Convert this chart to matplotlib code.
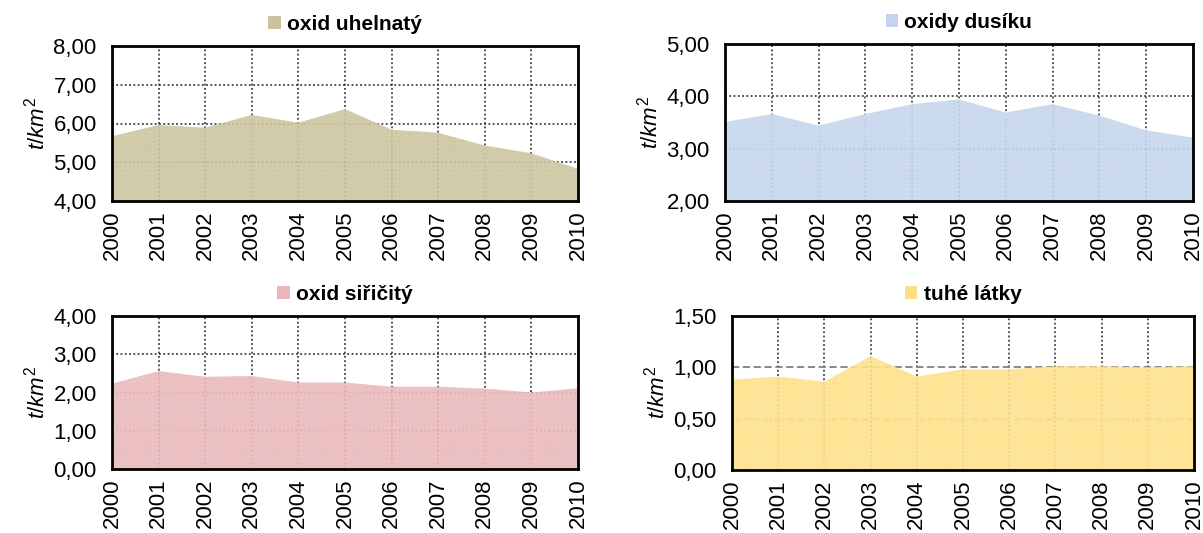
import numpy as np
import matplotlib.pyplot as plt
from matplotlib.patches import Patch
from matplotlib.ticker import FuncFormatter

plt.rcParams['font.family'] = ['Liberation Sans', 'DejaVu Sans']
plt.rcParams['mathtext.fontset'] = 'custom'
plt.rcParams['mathtext.it'] = 'Liberation Sans:italic'
plt.rcParams['mathtext.rm'] = 'Liberation Sans'
plt.rcParams['hatch.linewidth'] = 0.3

years = list(range(2000, 2011))

co = [5.67, 5.96, 5.89, 6.22, 6.02, 6.37, 5.84, 5.76, 5.43, 5.23, 4.83]
nox = [3.51, 3.66, 3.44, 3.66, 3.85, 3.94, 3.69, 3.85, 3.63, 3.35, 3.21]
so2 = [2.23, 2.56, 2.41, 2.43, 2.26, 2.26, 2.15, 2.15, 2.10, 2.00, 2.11]
tzl = [0.88, 0.91, 0.86, 1.11, 0.91, 0.98, 0.98, 1.01, 1.01, 1.00, 1.01]

titles = ['oxid uhelnatý', 'oxidy dusíku', 'oxid siřičitý', 'tuhé látky']
series = [co, nox, so2, tzl]
ylims = [(4, 8), (2, 5), (0, 4), (0, 1.5)]
ysteps = [1, 1, 1, 0.5]
colors = ['#cbc39e', '#c3d4ec', '#e9b7ba', '#fde086']
hatch_colors = ['#d9d3b8', '#d5e1f2', '#f0cdcf', '#fee9ad']

# [left, bottom, width, height] in figure fraction
boxes = [
    [112 / 1203, 1 - 201 / 533, (578 - 112) / 1203, (201 - 46) / 533],
    [725 / 1203, 1 - 201 / 533, (1193 - 725) / 1203, (201 - 44) / 533],
    [112 / 1203, 1 - 469 / 533, (578 - 112) / 1203, (469 - 316) / 533],
    [732 / 1203, 1 - 470 / 533, (1194 - 732) / 1203, (470 - 316) / 533],
]

fig = plt.figure(figsize=(12.03, 5.33), dpi=100)

fmt = FuncFormatter(lambda v, p: f'{v:.2f}'.replace('.', ','))

for i in range(4):
    ax = fig.add_axes(boxes[i])
    lo, hi = ylims[i]
    ax.fill_between(years, lo, series[i], facecolor=colors[i],
                    edgecolor=hatch_colors[i], hatch='++++', linewidth=0,
                    alpha=0.9, zorder=1)
    ax.set_xlim(2000, 2010)
    ax.set_ylim(lo, hi)
    ax.set_xticks(years)
    ax.set_xticklabels([str(y) for y in years], rotation=90, fontsize=16)
    ax.set_yticks(np.arange(lo, hi + 0.001, ysteps[i]))
    ax.yaxis.set_major_formatter(fmt)
    ax.tick_params(axis='y', labelsize=16, length=0, pad=11)
    ax.tick_params(axis='x', length=0, pad=7)
    ax.set_axisbelow(True)
    ax.grid(axis='x', color='#222222', linestyle=(0, (1.2, 1.6)), linewidth=1.1)
    if i == 3:
        ax.grid(axis='y', color='#808080', linestyle=(0, (4, 2)), linewidth=1.3)
    else:
        ax.grid(axis='y', color='#222222', linestyle=(0, (1.2, 1.6)), linewidth=1.1)
    for s in ax.spines.values():
        s.set_linewidth(2)
        s.set_color('black')
    ax.set_ylabel(r'$t/km^2$', fontsize=16, labelpad=3)
    ax.legend(handles=[Patch(facecolor=colors[i], edgecolor='none')],
              labels=[titles[i]], loc='lower center',
              bbox_to_anchor=(0.5, 1.01), frameon=False,
              prop={'weight': 'bold', 'size': 15},
              handlelength=0.6, handleheight=0.6, handletextpad=0.3,
              borderaxespad=0.1)

fig.savefig('out.png', dpi=100)
